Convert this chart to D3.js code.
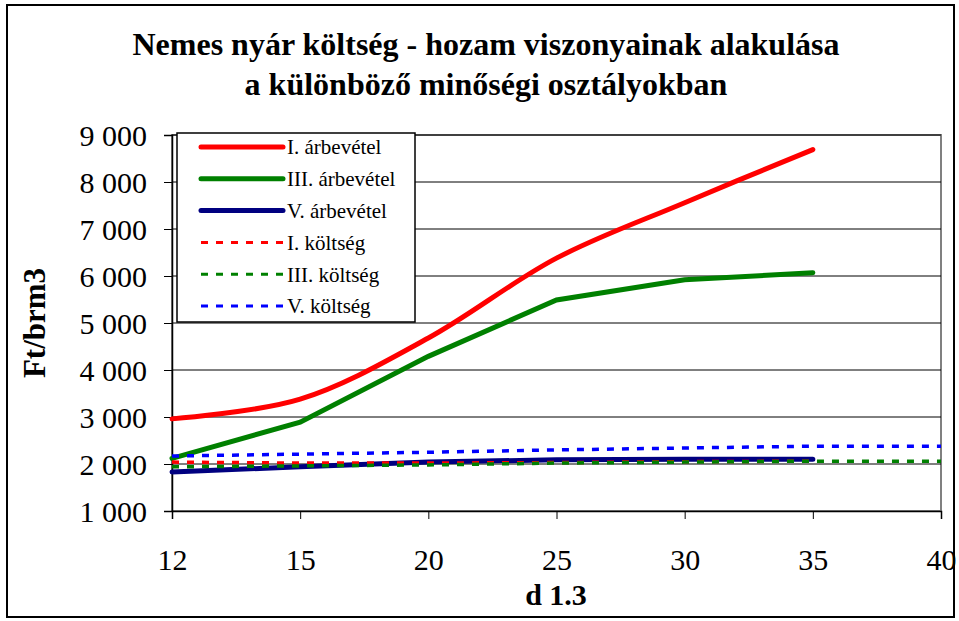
<!DOCTYPE html>
<html>
<head>
<meta charset="utf-8">
<script src="https://cdn.jsdelivr.net/npm/d3@7"></script>
<style>
  body { margin: 0; background: #fff; }
  text { font-family: "Liberation Serif", "Times New Roman", serif; fill: #000; }
</style>
</head>
<body>
<script>
// chart data
const categories = ["12", "15", "20", "25", "30", "35", "40"];
const seriesNames = ["I. árbevétel", "III. árbevétel", "V. árbevétel", "I. költség", "III. költség", "V. költség"];
const revenueI   = [2960, 3380, 4680, 6380, 7560, 8690, null];
const revenueIII = [2120, 2890, 4290, 5490, 5920, 6070, null];
const revenueV   = [1830, 1940, 2040, 2090, 2100, 2100, null];
const costI      = [2040, 2020, 2020, 2030, 2050, 2060, null];
const costIII    = [1940, 1960, 1980, 2020, 2040, 2060, 2060];
const costV      = [2170, 2210, 2250, 2300, 2340, 2380, 2380];
const yTicks = [1000, 2000, 3000, 4000, 5000, 6000, 7000, 8000, 9000];

const W = 959, H = 621;
let margin = {top: 135, right: 18, bottom: 110, left: 172}
  , width = W - margin.left - margin.right
  , height = H - margin.top - margin.bottom;

const styles = [
  {color: "#ff0000", width: 5, dash: null, curve: d3.curveCatmullRom.alpha(0.5)},
  {color: "#008000", width: 5, dash: null, curve: d3.curveLinear},
  {color: "#000080", width: 5, dash: null, curve: d3.curveLinear},
  {color: "#ff0000", width: 3.5, dash: "7,8", curve: d3.curveLinear},
  {color: "#008000", width: 3.5, dash: "7,8", curve: d3.curveLinear},
  {color: "#0000ff", width: 3.5, dash: "7,8", curve: d3.curveLinear}
];
const allSeries = [revenueI, revenueIII, revenueV, costI, costIII, costV];

let xScale = d3.scalePoint().domain(categories).range([0, width]);
let yScale = d3.scaleLinear().domain([1000, 9000]).range([height, 0]);

const svg = d3.select("body").append("svg")
  .attr("width", W)
  .attr("height", H);

// outer frame
svg.append("rect")
  .attr("x", 7).attr("y", 5)
  .attr("width", 947).attr("height", 612)
  .attr("fill", "none").attr("stroke", "#000").attr("stroke-width", 2);

// title
svg.append("text")
  .attr("x", 486).attr("y", 55)
  .attr("text-anchor", "middle")
  .attr("font-size", 32).attr("font-weight", "bold")
  .text("Nemes nyár költség - hozam viszonyainak alakulása");
svg.append("text")
  .attr("x", 486).attr("y", 95)
  .attr("text-anchor", "middle")
  .attr("font-size", 32).attr("font-weight", "bold")
  .text("a különböző minőségi osztályokban");

const g = svg.append("g")
  .attr("transform", "translate(" + margin.left + "," + margin.top + ")");

// plot area border (gray)
g.append("rect")
  .attr("x", 0).attr("y", 0)
  .attr("width", width).attr("height", height)
  .attr("fill", "none").attr("stroke", "#808080").attr("stroke-width", 2);

// gridlines
g.selectAll(".grid")
  .data(yTicks.filter(d => d > 1000))
  .enter().append("line")
  .attr("x1", 0).attr("x2", width)
  .attr("y1", d => yScale(d)).attr("y2", d => yScale(d))
  .attr("stroke", "#000").attr("stroke-width", 1);

// y axis
const fmt = d => d3.format(",")(d).replace(",", " ");
const yAxis = g.append("g")
  .call(d3.axisLeft(yScale).tickValues(yTicks).tickFormat(fmt).tickSize(8).tickPadding(17));
yAxis.select(".domain").attr("stroke", "#000").attr("stroke-width", 1.5);
yAxis.selectAll("text").attr("font-size", 30).attr("font-family", "Liberation Serif").attr("fill", "#000").attr("dy", "0.35em");

// x axis
const xAxis = g.append("g")
  .attr("transform", "translate(0," + height + ")")
  .call(d3.axisBottom(xScale).tickSize(8).tickPadding(0));
xAxis.select(".domain").attr("stroke", "#000").attr("stroke-width", 1.5);
xAxis.selectAll("text").attr("font-size", 30).attr("font-family", "Liberation Serif").attr("fill", "#000")
  .attr("y", 59).attr("dy", null);

// axis titles
svg.append("text")
  .attr("x", 556).attr("y", 605)
  .attr("text-anchor", "middle")
  .attr("font-size", 30).attr("font-weight", "bold")
  .text("d 1.3");
svg.append("text")
  .attr("transform", "translate(45,323) rotate(-90)")
  .attr("text-anchor", "middle")
  .attr("font-size", 31).attr("font-weight", "bold")
  .text("Ft/brm3");

// series lines
allSeries.forEach(function(values, i) {
  const st = styles[i];
  const line = d3.line()
    .defined(d => d != null)
    .x((d, j) => xScale(categories[j]))
    .y(d => yScale(d))
    .curve(st.curve);
  g.append("path")
    .datum(values)
    .attr("fill", "none")
    .attr("stroke", st.color)
    .attr("stroke-width", st.width)
    .attr("stroke-linecap", st.dash ? "butt" : "round")
    .attr("stroke-dasharray", st.dash)
    .attr("d", line);
});

// legend
const legend = svg.append("g").attr("transform", "translate(177,133)");
legend.append("rect")
  .attr("x", 0).attr("y", 0).attr("width", 238).attr("height", 189)
  .attr("fill", "#fff").attr("stroke", "#000").attr("stroke-width", 1.5);
seriesNames.forEach(function(name, i) {
  const st = styles[i];
  const y = 14 + i * 31.8;
  legend.append("line")
    .attr("x1", 24).attr("x2", 106)
    .attr("y1", y).attr("y2", y)
    .attr("stroke", st.color)
    .attr("stroke-width", st.dash ? 3 : 5)
    .attr("stroke-linecap", st.dash ? "butt" : "round")
    .attr("stroke-dasharray", st.dash ? "7,8" : null);
  legend.append("text")
    .attr("x", 110).attr("y", y)
    .attr("dy", "0.35em")
    .attr("font-size", 21)
    .text(name);
});
</script>
</body>
</html>
